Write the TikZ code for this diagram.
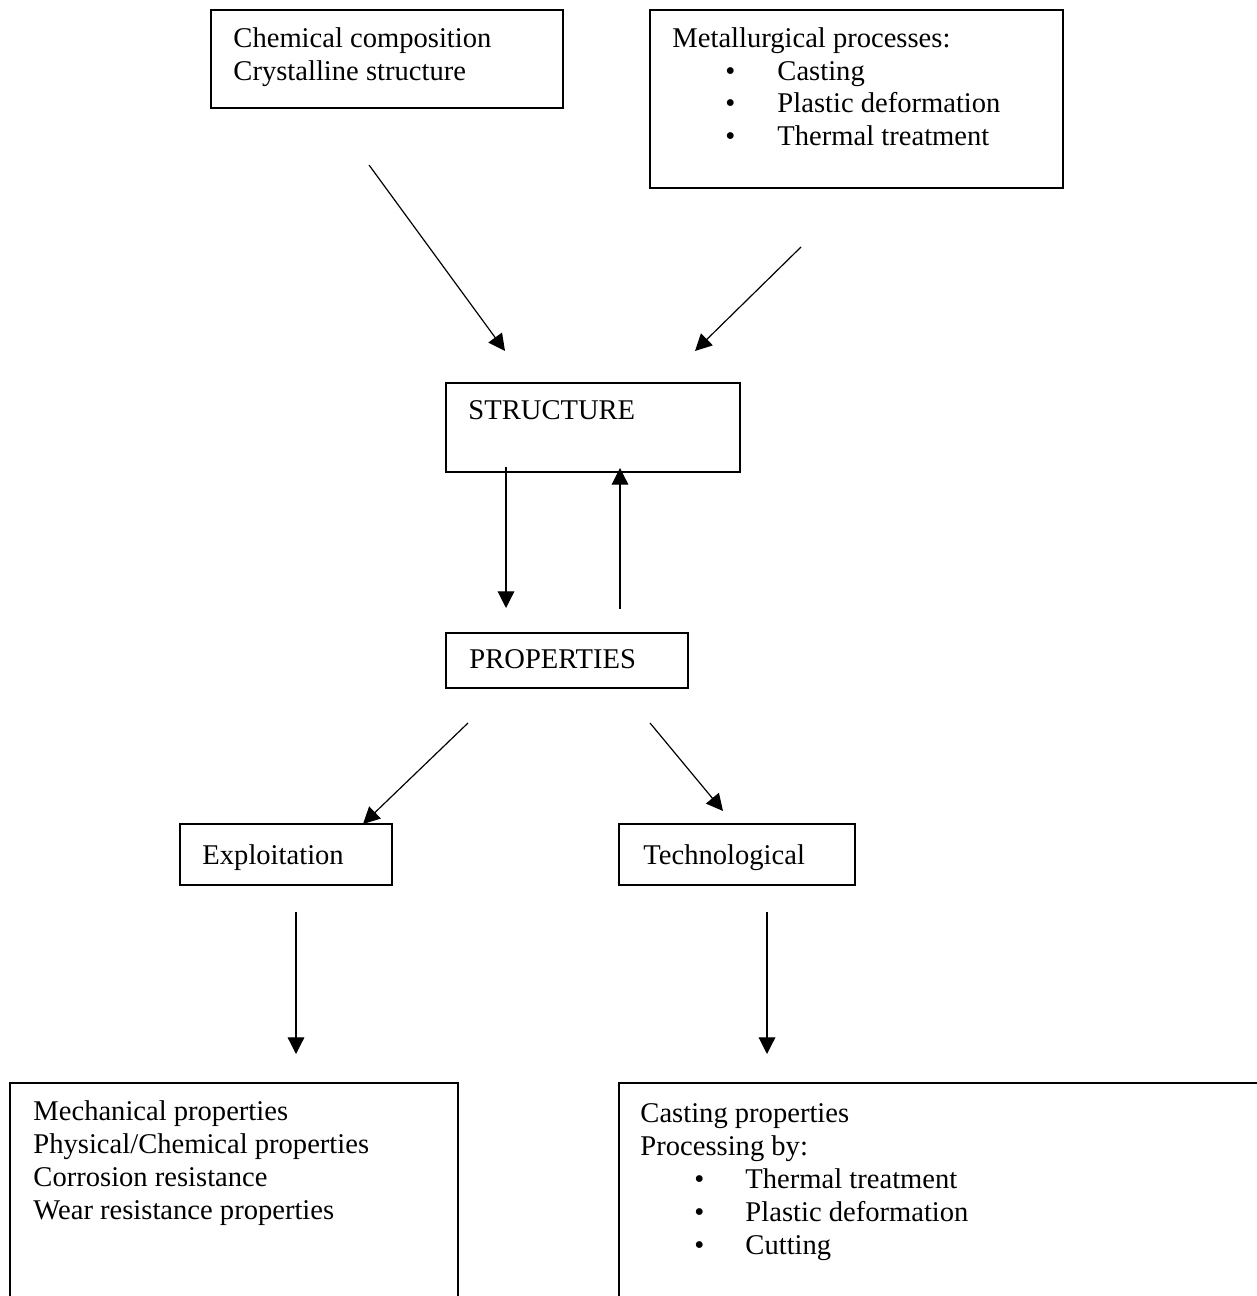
\documentclass[tikz,border=0pt]{standalone}
\usepackage{fontspec}
\setmainfont{Liberation Serif}
\usetikzlibrary{arrows.meta,fit}

\begin{document}
\begin{tikzpicture}[x=0.42pt, y=-0.42pt,
  box/.style={draw=black, line width=0.8pt, inner sep=0pt},
  txt/.style={anchor=base west, inner sep=0pt, font=\fontsize{12pt}{14pt}\selectfont},
  arr/.style={line width=0.5pt, -{Triangle[length=7pt, width=7pt]}}]
\useasboundingbox (0,0) rectangle (1256,1296);
% boxes
\node (comp) [box, fit={(211,10) (563,108)}] {};
\node (proc) [box, fit={(650,10) (1063,188)}] {};
\node (struct) [box, fit={(446,383) (740,472)}] {};
\node (props) [box, fit={(446,633) (688,688)}] {};
\node (expl) [box, fit={(180,824) (392,885)}] {};
\node (tech) [box, fit={(619,824) (855,885)}] {};
\node (use) [box, fit={(10,1083) (458,1312)}] {};
\node (work) [box, fit={(619,1083) (1272,1312)}] {};
% texts
\node (comp1) [txt] at (233,48) {Chemical composition};
\node (comp2) [txt] at (233,81) {Crystalline structure};
\node (proc1) [txt] at (672,48) {Metallurgical processes:};
\node (procb1) [txt] at (725,80.5) {•};
\node (proc2) [txt] at (777,80.5) {Casting};
\node (procb2) [txt] at (725,113) {•};
\node (proc3) [txt] at (777,113) {Plastic deformation};
\node (procb3) [txt] at (725,145.5) {•};
\node (proc4) [txt] at (777,145.5) {Thermal treatment};
\node (struct1) [txt] at (468,420) {STRUCTURE};
\node (props1) [txt] at (469,668) {PROPERTIES};
\node (expl1) [txt] at (202,864) {Exploitation};
\node (tech1) [txt] at (643,864) {Technological};
\node (use1) [txt] at (33,1120) {Mechanical properties};
\node (use2) [txt] at (33,1153) {Physical/Chemical properties};
\node (use3) [txt] at (33,1186) {Corrosion resistance};
\node (use4) [txt] at (33,1219) {Wear resistance properties};
\node (work1) [txt] at (640,1122) {Casting properties};
\node (work2) [txt] at (640,1155) {Processing by:};
\node (workb1) [txt] at (694,1188) {•};
\node (work3) [txt] at (745,1188) {Thermal treatment};
\node (workb2) [txt] at (694,1221) {•};
\node (work4) [txt] at (745,1221) {Plastic deformation};
\node (workb3) [txt] at (694,1254) {•};
\node (work5) [txt] at (745,1254) {Cutting};
% arrow ends
\coordinate (c1) at (369,165); \coordinate (c2) at (505,351);
\coordinate (p1) at (801,247); \coordinate (p2) at (695,351);
\coordinate (s1) at (506,467); \coordinate (s2) at (506,608);
\coordinate (r1) at (620,609); \coordinate (r2) at (620,468);
\coordinate (e1) at (468,723); \coordinate (e2) at (363,824);
\coordinate (t1) at (650,723); \coordinate (t2) at (723,811);
\coordinate (u1) at (296,912); \coordinate (u2) at (296,1054);
\coordinate (w1) at (767,912); \coordinate (w2) at (767,1054);
\draw [arr] (c1) to (c2);
\draw [arr] (p1) to (p2);
\draw [arr] (s1) to (s2);
\draw [arr] (r1) to (r2);
\draw [arr] (e1) to (e2);
\draw [arr] (t1) to (t2);
\draw [arr] (u1) to (u2);
\draw [arr] (w1) to (w2);
\end{tikzpicture}
\end{document}
